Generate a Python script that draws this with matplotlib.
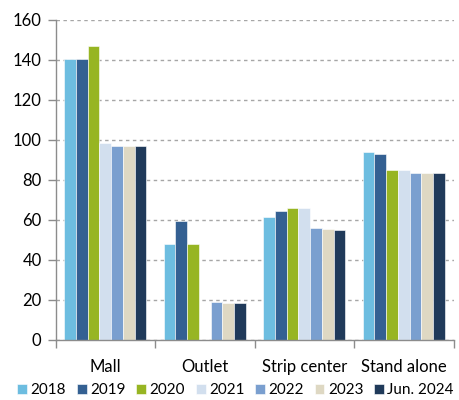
import numpy as np
import matplotlib
matplotlib.use("Agg")
import matplotlib.pyplot as plt

plt.rcParams['font.family'] = ['Lato', 'DejaVu Sans']

categories = ["Mall", "Outlet", "Strip center", "Stand alone"]
series_labels = ["2018", "2019", "2020", "2021", "2022", "2023", "Jun. 2024"]
values = {
    "2018": [140.5, 47.8, 61.7, 93.8],
    "2019": [140.5, 59.7, 64.5, 93.0],
    "2020": [147.0, 48.2, 65.8, 85.0],
    "2021": [98.7, np.nan, 65.8, 85.0],
    "2022": [97.2, 19.0, 55.8, 83.3],
    "2023": [97.2, 18.7, 55.3, 83.3],
    "Jun. 2024": [97.2, 18.7, 55.0, 83.3],
}
colors = ["#6DBDE0", "#346092", "#97B523", "#D2DFEE", "#7A9FCF", "#DED8C3", "#203A5A"]
yticks = [0, 20, 40, 60, 80, 100, 120, 140, 160]

fig = plt.figure(figsize=(4.59, 4.0), dpi=100)
ax = fig.add_axes([55.5 / 459, 0.15, (453.5 - 55.5) / 459, 0.80])

x = np.arange(len(categories))
n = len(series_labels)
w = 0.118
for i, (lab, c) in enumerate(zip(series_labels, colors)):
    off = (i - (n - 1) / 2) * w
    ax.bar(x + off, values[lab], width=w, color=c, label=lab,
           edgecolor="white", linewidth=0.4, zorder=3)

ax.set_xlim(-0.5, len(categories) - 0.5)
ax.set_ylim(0, 160)
ax.set_yticks(yticks)
ax.set_xticks(x)
ax.set_xticklabels(categories)
ax.set_xticks(np.arange(-0.5, len(categories)), minor=True)
ax.tick_params(axis="x", which="major", length=0, pad=14, labelsize=12)
ax.tick_params(axis="x", which="minor", length=6, color="#8C8C8C", width=1)
ax.tick_params(axis="y", length=6, color="#8C8C8C", width=1, labelsize=12, pad=4)

ax.grid(axis="y", linestyle=(0, (2.5, 2.5)), color="#A6A6A6", linewidth=1, zorder=0)
ax.set_axisbelow(True)
for s in ["top", "right"]:
    ax.spines[s].set_visible(False)
for s in ["left", "bottom"]:
    ax.spines[s].set_color("#8C8C8C")
    ax.spines[s].set_linewidth(1)
ax.spines["bottom"].set_zorder(4)

fig.legend(loc="center", bbox_to_anchor=(0.513, 0.025), ncol=7, frameon=False,
           handlelength=0.65, handleheight=0.65, handletextpad=0.22,
           columnspacing=0.7, fontsize=11, borderaxespad=0, borderpad=0)

fig.savefig("out.png", dpi=100)
